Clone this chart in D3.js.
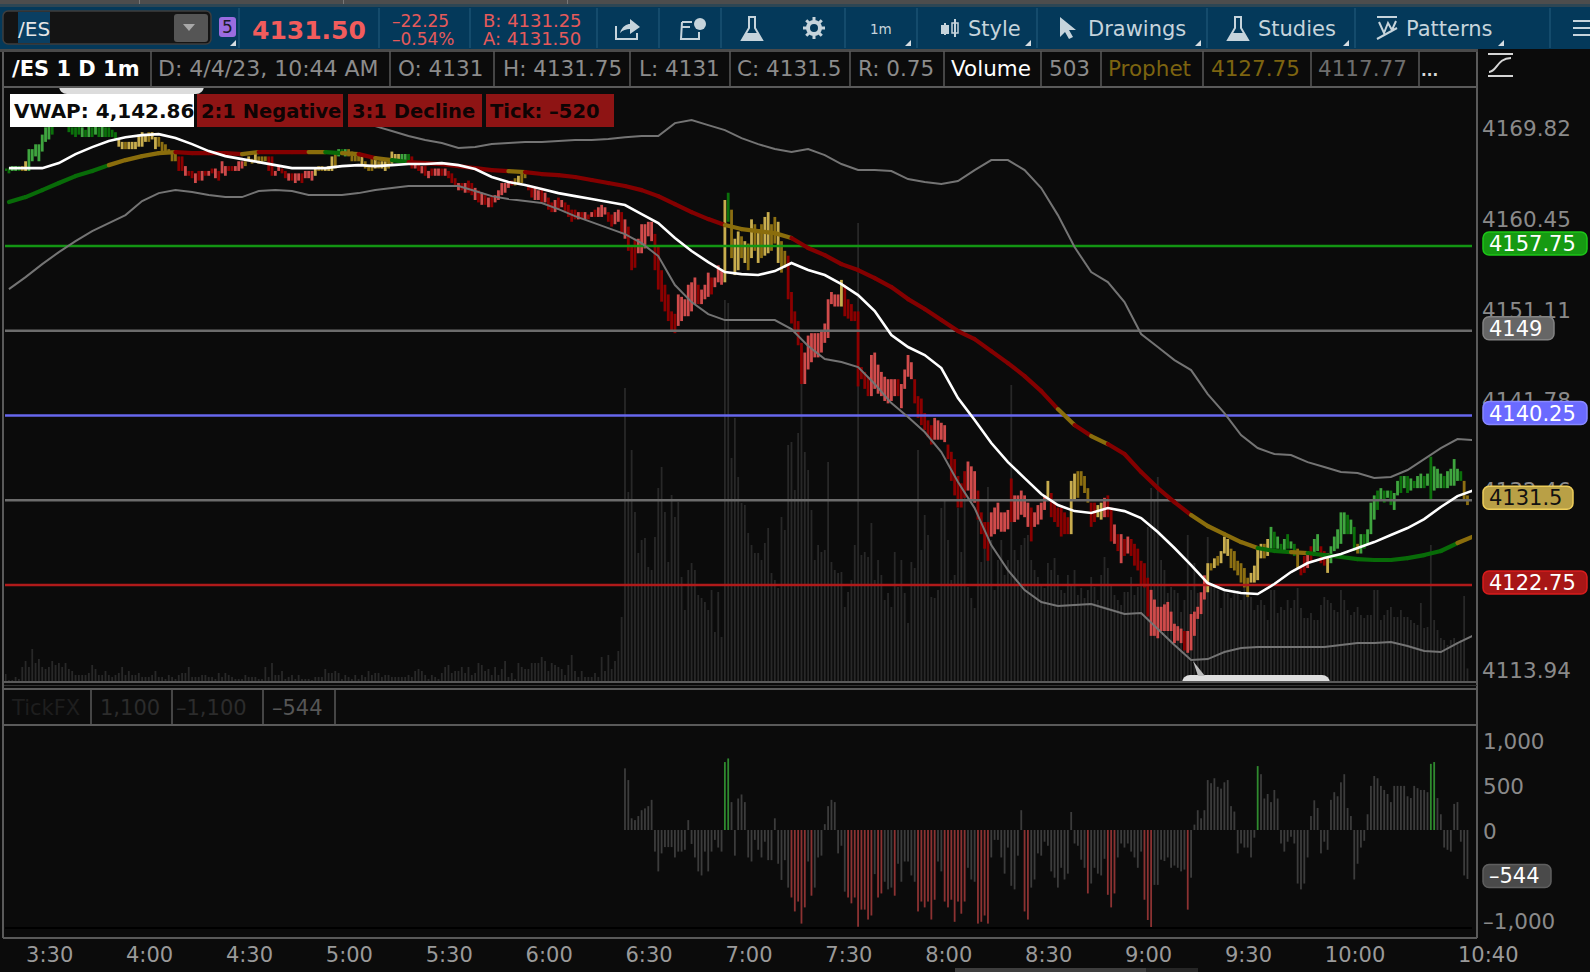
<!DOCTYPE html>
<html>
<head>
<meta charset="utf-8">
<script src="https://cdnjs.cloudflare.com/ajax/libs/d3/7.8.5/d3.min.js"></script>
<style>
html,body {margin:0;padding:0;background:#0b0b0b;overflow:hidden;}
text {font-family:'DejaVu Sans',sans-serif;}
.axis path,.axis line {display:none;}
</style>
</head>
<body>
<script>
//Time of the first bar, minutes after midnight (3:24)
var firstMinute = 204;

var candleHigh = [
4165.75,4165.75,4166,4166,4166,4166,4166.5,4167.75,4167.75,4168.25,
4168.25,4169.25,4170,4170.25,4170.75,4171.75,4171.75,4172.25,4172.25,4170.75,
4170,4170,4170.25,4170,4169.75,4170.25,4170,4170.25,4170,4170.25,
4170,4170,4169.75,4169.5,4168.75,4168.5,4168.5,4168.5,4168.5,4168.5,
4169.25,4169.5,4169.25,4169.5,4169.5,4169,4169,4168.5,4168.25,4167.75,
4167.5,4167.25,4167,4167,4166,4165.5,4165.5,4165.25,4165.5,4165.5,
4165.5,4165.5,4165.75,4165.75,4165.5,4166.5,4166,4166,4166,4166,
4166.5,4166.5,4166.5,4167,4166.75,4167.25,4167,4167,4167,4167,
4167,4165.5,4166,4165.75,4165.5,4165.25,4165.25,4165.25,4165.25,4165.25,
4165.5,4165.5,4165.5,4165.75,4166,4166,4165.75,4166,4167,4167.25,
4167.75,4167.75,4167.75,4167.75,4167.5,4167.25,4167.25,4167,4166.5,4166,
4167,4167,4166.5,4166.5,4166.5,4166.5,4167.5,4167.25,4167.25,4167.25,
4167.25,4167.25,4167,4166.5,4166.5,4166,4166,4165.5,4165.75,4165.75,
4165.75,4165.75,4165.75,4165.5,4165.25,4164.75,4164.25,4164.25,4164.25,4164.5,
4164.25,4163.75,4163.5,4163.25,4163,4162.75,4163,4163,4163.5,4164.25,
4164.25,4164.25,4164.5,4164.75,4165,4165.5,4165.25,4164,4163.75,4163.75,
4163.5,4163.75,4163.25,4162.75,4162.25,4162.5,4162.75,4162.5,4162.25,4162,
4161.5,4161.5,4161.25,4161.25,4161.25,4161,4161.25,4161.5,4161.75,4162,
4161.75,4161.25,4161,4161.25,4161.5,4161.25,4160.5,4159.75,4157.75,4158.5,
4158.5,4160,4160,4160.25,4160.25,4159,4157.75,4155.25,4153.75,4152.75,
4151,4150.75,4152.75,4152.5,4152.25,4153.75,4154,4154.5,4153.75,4153.25,
4153.75,4155,4154.5,4154.5,4155.75,4155.25,4162.5,4163.25,4161.5,4158.5,
4159.25,4158.75,4158.25,4158,4160.5,4160,4159.5,4160,4160.75,4161.25,
4160,4160.75,4160.25,4158.25,4157.25,4156.75,4153,4151,4150,4147.75,
4146.75,4148.5,4148.75,4148.75,4148.75,4149,4149.75,4152.25,4153,4152.75,
4152.75,4154.25,4153.75,4152.25,4151.75,4151,4151,4145.25,4144.75,4144.25,
4146.5,4146.75,4145.5,4144.75,4144.25,4144,4144,4144,4144,4143.5,
4145,4146.5,4145.75,4144,4142.25,4142,4140.5,4139.75,4139.25,4140,
4139.75,4139.5,4139.25,4137.25,4136.5,4135.75,4134,4133.25,4134.5,4135.5,
4135,4134.5,4132.5,4130.25,4129.25,4129.25,4130.25,4130.75,4131.25,4130.25,
4130.25,4130.5,4133.75,4132,4132,4132.5,4132,4131.25,4130.75,4130.25,
4131,4131.25,4132,4133.5,4132.25,4131.25,4130.75,4130.75,4130.25,4129.75,
4133.5,4134.25,4134.5,4134.5,4134,4132.75,4131.25,4131.25,4131,4131.25,
4131.75,4132,4130.75,4129,4128,4128,4127.5,4127.75,4127.5,4127,
4126.5,4125.25,4125,4123.5,4122.25,4121.25,4120.5,4120.5,4120.75,4121,
4120,4118.75,4118.5,4118.25,4118,4118,4119.75,4120,4120.5,4122,
4123.75,4125,4125,4125.5,4125.75,4126.25,4127.75,4127.5,4126.5,4126.25,
4125.25,4125,4124.5,4123.5,4124,4124.75,4126.5,4127,4127,4127.5,
4128.75,4128.25,4127.75,4127,4127.5,4128,4127.25,4127,4126.5,4124.5,
4125.75,4126.25,4126.75,4127.5,4128,4126.75,4126.25,4126,4126.75,4127.75,
4128.5,4130.25,4130.25,4130,4129.5,4128.75,4127,4128,4128,4128.5,
4131.25,4132,4132.5,4132.75,4132.5,4132.5,4132.5,4132.25,4133.5,4134,
4134,4134,4133.75,4133.5,4134,4134.25,4134,4134.25,4136,4135,
4134.75,4134.25,4134,4134.5,4134.75,4135.75,4134.75,4134.5,4133.5,4132
];

var candleLow = [
4165.5,4165.25,4165.5,4165.5,4165.5,4165.5,4165.5,4165.5,4166.5,4167,
4166.5,4167.5,4168.5,4168.75,4169.25,4170.25,4170.25,4170.75,4170.5,4169.5,
4169.25,4169,4169.25,4169,4169,4169,4169,4169.25,4169,4169,
4169,4169,4169,4168.75,4168,4167.75,4167.75,4167.75,4167.75,4167.75,
4168,4168,4168.5,4168.5,4168.75,4167.75,4168,4167.5,4167.25,4167.25,
4166.5,4166.5,4165.5,4165.5,4165,4165,4164.75,4164.25,4164.5,4164.5,
4165,4165,4165.25,4164.75,4164.5,4165.25,4165,4165.5,4165.5,4165.5,
4165.5,4165.75,4166,4166.5,4166.25,4166.5,4166.25,4166.25,4166.5,4165.5,
4165,4165,4165.5,4165.25,4164.75,4164.5,4164.5,4164.25,4164.5,4164.25,
4164.75,4164.75,4164.5,4165,4165.5,4165.5,4165.5,4165.5,4165.5,4165.75,
4167,4167.25,4167,4167,4166.5,4166.5,4166.5,4166,4165.75,4165.5,
4165.5,4165.75,4165.75,4165.75,4165.5,4165.75,4166.25,4166.5,4166.5,4166.5,
4166.5,4166.25,4165.75,4165.75,4165.5,4165.25,4165,4164.75,4165,4165,
4165,4165,4165,4164.75,4164.25,4164,4163.5,4163.5,4163.25,4163.25,
4163,4162.5,4162.25,4162,4162,4161.75,4161.75,4162.25,4162.5,4163,
4163.25,4163.75,4164,4164,4164.25,4164.25,4164.75,4163.5,4162.75,4162.5,
4162.5,4162.25,4162.25,4161.5,4161.25,4161.25,4161.5,4161.75,4161.25,4160.75,
4160.25,4160.5,4160.5,4160.5,4160.5,4160.5,4160.75,4160.75,4160.75,4160.75,
4161,4160.25,4159.75,4160,4160.25,4159,4158.5,4157.25,4155.25,4155.5,
4157,4157,4157.5,4158.75,4158.25,4155.25,4153.25,4152,4151,4150,
4149,4148.75,4149.5,4150,4150.5,4150.5,4151,4151.75,4151.75,4151.75,
4152.25,4152.5,4152.75,4153.5,4154,4153.75,4154,4160.25,4156.5,4154.75,
4155.25,4156.5,4156,4155.25,4156.5,4157.25,4156,4156.5,4156.75,4157,
4157.25,4158,4156,4155,4155.5,4152.25,4149.75,4148.75,4147.5,4143.5,
4143.5,4145,4145.75,4146.25,4146.25,4146.75,4147.75,4148.25,4151.75,4151.5,
4151.5,4151.5,4150.5,4150.25,4150,4150,4143.25,4144,4143,4142.25,
4142.25,4143,4142.5,4142.25,4141.75,4141.5,4141.75,4142.25,4142.25,4141,
4143,4144.25,4144,4141.5,4140,4139.25,4138.75,4138,4137.25,4137.75,
4137.75,4137.75,4137.5,4135.75,4133.5,4132,4130.75,4130.75,4131.75,4132.5,
4131.5,4131.25,4129.5,4128,4126.5,4125.25,4127.75,4128,4128.5,4128.25,
4128.25,4128.5,4129.25,4129.25,4129.5,4130,4129.75,4128.75,4127.25,4128.75,
4129,4129.5,4130.5,4131.75,4129.75,4129.25,4128.75,4127.75,4128,4128,
4128,4131.5,4131.75,4133,4132.25,4131.25,4128.75,4129.25,4129.75,4129.5,
4129.75,4129.75,4127.25,4127,4126.25,4125,4125.75,4126,4125.75,4124.75,
4124.25,4122.75,4122.5,4119.5,4117.5,4117.5,4117.25,4118,4118,4118,
4118,4116.75,4117,4116.75,4116,4115.75,4116,4117.5,4119.25,4119.75,
4121.25,4122,4124.25,4124.5,4124.75,4125,4126,4125.75,4124.5,4124.25,
4123.75,4123,4122.5,4121.5,4123,4123,4123.25,4125.5,4125.5,4125.75,
4126.5,4126.5,4126.5,4126.25,4126.25,4126.5,4126.5,4125.75,4124.5,4123.75,
4124,4124.5,4125.25,4125.75,4126.25,4125,4124.75,4124,4125,4126.25,
4126.5,4127,4128,4128,4128,4126.25,4126,4126,4126.5,4127,
4128,4129.5,4130.5,4131.5,4131.25,4131.75,4131,4130.5,4132,4132.25,
4132.75,4132.25,4132.5,4132.75,4132.75,4132.75,4132.75,4133,4131.5,4132.5,
4132.75,4132.75,4132.75,4132.75,4133,4133,4133.5,4133.5,4131.5,4131
];

//One letter a bar: G green, Y neutral, R red. Upper case up bar, lower case down bar
var candleState =
	'ggGGgyYGGG'+'GGGGgGGGGg'+'gggGgGgGgG'+'ggggYYyYYY'+'YYYyYYyyyy'+'yyrrRrrRrR'+
	'rRrRrRRrrR'+'RRyYyYyyyr'+'rRRrrRrRRr'+'RRRYyyYYYy'+'GgGyyyyYyy'+'yYyYYyYYYG'+
	'GgrRrRrRrR'+'RrRrrrRrRr'+'rRrRrRrRRR'+'RRryYyyrrR'+'RrRrrRrRrr'+'rrRrRrRrRR'+
	'RrrRRrRrrr'+'RRRRRrrrrr'+'rrRRRRRRrR'+'RRrRRRYgyY'+'YyYyYyYyYY'+'yyYyyrrrrr'+
	'RRRRRRRRRR'+'RYrrrrrrrr'+'RRRRRRRRrR'+'RRRrrrrrrR'+'RRRrrrrrrR'+'RRrrrrRRRR'+
	'RRrRRRRRrR'+'RRRYrrrrrr'+'YYyyyyrrYY'+'RrrRrRrRrr'+'rrrrRRRRRR'+'RRRRrRRRRR'+
	'RYyYyYYYyy'+'yyyyYYYYyY'+'GgGgGgGgyr'+'rRrGGrrYGG'+'GGGgGgyGgG'+'GGgGgGgGGg'+
	'GgGgGGgGgG'+'GGgGGGGgyy';

var volumeValues = [
280,40,40,160,80,560,800,560,1280,720,
880,560,480,560,800,640,720,560,720,480,
400,240,240,240,240,320,640,480,240,240,
400,240,160,240,320,560,240,400,240,240,
320,160,160,160,240,400,160,160,80,240,
160,80,240,320,320,560,160,160,160,240,
240,160,160,80,320,160,320,240,160,80,
80,80,240,160,160,160,80,80,560,160,
720,240,240,400,80,160,240,80,240,80,
80,80,40,160,160,160,480,320,320,400,
320,80,240,160,80,240,80,240,160,400,
240,320,320,160,240,240,160,160,160,160,
160,240,160,400,480,400,240,80,240,160,
80,320,560,640,320,400,400,560,320,560,
240,320,720,640,400,480,240,560,240,480,
800,160,320,80,720,560,480,480,720,720,
720,960,800,400,720,640,560,480,240,640,
1040,400,160,400,160,160,160,320,160,960,
400,1040,480,800,1200,2560,
11720,7560,9240,6760,5120,5640,5720,4560,4440,5760,
7720,8560,6760,4760,7440,6560,7160,4160,2840,4440,
4720,4440,3440,3320,3160,2840,3640,1960,3560,1760,
15240,15120,8920,10520,8160,7120,7040,5920,5440,5120,
5120,4840,5520,6120,4320,4040,3720,6560,6040,9440,
9560,7640,9920,12040,9160,8440,6840,4840,5440,5160,
5240,8760,4760,4440,4320,4360,2960,3560,4040,5440,
18320,5040,5160,4960,6320,4040,4840,4240,3240,3520,
2960,5160,3760,4840,3520,2320,4760,4520,9240,5240,
6640,5840,3360,3320,3640,6920,7240,5640,4040,4240,
6920,5160,7760,3760,3320,2920,6440,4760,5360,7760,
5640,3640,4840,5640,4240,4840,11840,5240,4840,5440,
5720,5840,4840,4440,4160,3840,3720,4720,4440,4920,
4240,3640,3520,4240,3840,4440,3440,3720,3320,3640,
4160,3760,3240,4240,4960,4520,3840,3440,3240,3040,
3560,3560,4160,3440,3760,4040,4440,6160,7720,7240,
8160,4840,4440,3520,3760,3640,3520,2760,3240,5840,
3640,4720,3520,3240,3640,5760,3920,3760,3640,2920,
3720,3520,3320,3640,3640,3240,3760,3720,3360,2840,
3040,3240,3040,2440,3640,3640,2720,2960,2840,3240,
2920,3240,3720,2920,2520,2520,2720,2440,2440,3040,
3360,3240,3120,2840,2760,3640,3240,2840,2640,2760,
2960,2640,2520,2640,2640,3640,3640,2440,2640,2840,
2960,2560,2560,2840,2560,2560,2440,2320,2240,3120,
2120,2160,5440,2440,2040,1720,1640,1440,1640,1720,
1560,1640,3400,503
];

//TickFX starts with the session, 6:30
var tickStartMinute = 390;
var tickValues = [
685,555,130,110,155,220,240,265,335,-240,
-460,-260,-190,-190,-190,-305,-240,-240,-220,110,
-155,-305,-460,-505,-240,-460,-240,-110,-195,-240,
755,795,310,-285,350,395,310,-305,-350,-110,
-220,-305,-130,-335,-335,130,-375,-555,-335,-640,
-750,-905,-795,-1040,-860,-350,-730,-640,-305,-285,
65,265,335,310,-260,-175,-685,-750,-815,-750,
-1075,-885,-885,-995,-950,-490,-750,-705,-575,-660,
-640,-730,-375,-575,-350,-350,-505,-575,-905,-795,
-860,-795,-995,-775,-350,-460,-795,-860,-775,-1020,
-795,-930,-795,-420,-550,-575,-1040,-1020,-950,-1040,
-305,-110,-110,-305,-485,-195,-620,-660,-285,220,
-905,-995,-640,-550,-260,-285,-130,-175,-460,-530,
-640,-420,-550,-485,200,-150,-175,-330,-420,-705,
-595,-420,-485,-505,-320,-720,-860,-705,-305,-150,
-195,-150,-240,-305,-420,-240,-775,-1000,-1100,-610,
-610,-330,-345,-305,-420,-395,-420,-460,-440,-885,
-530,60,220,130,220,555,520,575,480,460,
530,555,265,205,-260,-150,-195,-195,-305,-85,
710,620,350,400,310,445,350,-150,-240,-130,
-75,-150,-595,-660,-595,-305,155,330,245,-260,
-130,-220,335,420,375,530,620,245,155,-550,
-375,-195,-120,175,490,600,575,490,445,400,
310,490,490,490,490,375,355,490,465,445,
445,420,735,755,355,175,-195,-220,-240,290,
310,-130,-505,-544
];

//Studies, one reading every 5 minutes from 3:25
var studyStep = 5;
var studyStart = 205;
var vwapValues = [
4165.79,4165.79,4165.79,4166.31,4167.24,4167.96,4168.58,4168.98,4169.2,4169.3,
4168.89,4168.27,4167.55,4167.03,4166.72,4166.41,4166.1,4165.79,4165.79,4165.79,
4166,4166.1,4166,4166.1,4166.21,4166.21,4166.31,4166.1,4165.69,4164.87,
4164.35,4164.04,4163.63,4163.21,4162.9,4162.6,4162.29,4161.98,4161.05,4160.12,
4158.57,4157.23,4156.09,4155.06,4154.85,4154.75,4155.16,4155.99,4155.27,4154.75,
4153.82,4152.68,4151.03,4148.56,4147.32,4146.49,4145.15,4142.05,4139.78,4137.41,
4135.44,4133.79,4132.14,4131,4130.38,4130.18,4130.69,4130.38,4129.66,4128.22,
4126.57,4124.81,4122.95,4122.23,4121.92,4121.82,4122.85,4124.09,4125.02,4125.53,
4125.95,4126.57,4127.18,4127.91,4128.63,4129.56,4130.8,4131.93,4132.55
];
//The first readings of the upper band are out of the panel
var upperBandValues = [
null,null,null,null,null,null,null,null,null,null,
null,null,null,null,null,null,null,null,null,null,
null,null,4170.13,4169.62,4169.1,4168.69,4168.38,4167.86,4167.96,4168.27,
4168.38,4168.48,4168.48,4168.58,4168.69,4168.69,4168.79,4168.98,4169.1,4169.1,
4170.44,4170.75,4170.23,4169.72,4168.89,4168.27,4167.76,4167.45,4167.76,4167.14,
4166.21,4165.59,4165.59,4165.49,4164.66,4164.35,4164.14,4164.45,4165.59,4166.62,
4166.62,4165.59,4163.73,4160.94,4157.64,4155.06,4154.03,4151.96,4148.66,4147.32,
4145.97,4144.94,4142.46,4140.5,4138.23,4136.89,4136.27,4136.17,4135.44,4134.93,
4134.41,4134.31,4133.79,4133.9,4134.62,4135.75,4136.89,4137.82,4137.72
];
var lowerBandValues = [
4153.3,4154.54,4155.88,4157.12,4158.26,4159.29,4160.12,4160.94,4162.39,4163.21,
4163.52,4163.32,4163.01,4162.8,4162.8,4163.42,4163.52,4163.42,4163.01,4163.01,
4163.01,4163.21,4163.52,4163.73,4163.94,4163.94,4163.94,4163.94,4163.42,4162.9,
4162.6,4162.39,4162.18,4161.56,4160.84,4160.22,4159.6,4158.98,4158.05,4156.71,
4153.72,4151.96,4150.72,4150.1,4150.1,4150.1,4150.1,4149.17,4147.42,4146.08,
4145.77,4145.25,4143.5,4141.53,4140.09,4138.54,4136.48,4133.38,4130.69,4126.87,
4124.29,4122.23,4120.99,4120.58,4120.68,4120.78,4120.27,4119.75,4119.85,4118.2,
4116.55,4115,4115.1,4115.83,4116.24,4116.34,4116.34,4116.34,4116.34,4116.34,
4116.55,4116.76,4116.76,4116.86,4116.45,4115.93,4115.83,4116.76,4117.58
];
var prophetValues = [
4162.29,4162.8,4163.52,4164.25,4164.97,4165.49,4166.1,4166.62,4167.03,4167.34,
4167.45,4167.34,4167.34,4167.34,4167.24,4167.45,4167.45,4167.45,4167.45,4167.45,
4167.34,4167.24,4166.83,4166.62,4166.41,4166.31,4166.21,4166,4165.79,4165.59,
4165.49,4165.38,4165.18,4165.07,4164.87,4164.56,4164.25,4163.94,4163.52,4162.9,
4162.08,4161.25,4160.53,4159.91,4159.5,4159.29,4159.08,4158.57,4157.54,4156.81,
4155.88,4155.27,4154.44,4153.51,4152.27,4151.24,4150.1,4148.97,4148.14,4146.9,
4145.66,4144.32,4142.77,4140.91,4139.26,4138.13,4137.3,4136.27,4134.41,4132.76,
4131.31,4129.97,4128.84,4128.01,4127.18,4126.57,4126.26,4126.15,4126.05,4125.84,
4125.64,4125.43,4125.33,4125.33,4125.53,4125.84,4126.26,4127.08,4127.8
];
//Colour of each stretch between two prophet readings
var prophetState =
	'GGGGGGYYYYRRRRYRRRYGYRYG'+'RRRRRRYRRRRRRRRRRRRYYYY'+'RRRRRRRRRRRRRRRRYRYRRRRR'+
	'YYYYGGYGGGGGGGGGY';

var priceLevels = [
	{price:4157.75,color:'#139513',tag:'#169a12',text:'#fff',label:'4157.75'},
	{price:4149,color:'#6c6c6c',tag:'#666666',text:'#fff',label:'4149'},
	{price:4140.25,color:'#6767ee',tag:'#6a6aff',text:'#fff',label:'4140.25'},
	{price:4131.5,color:'#6c6c6c',tag:'#b9a046',text:'#111',label:'4131.5'},
	{price:4122.75,color:'#b01a1a',tag:'#a81616',text:'#fff',label:'4122.75'}
];
var priceTicks = [4169.82,4160.45,4151.11,4141.78,4132.46,4113.94];
var tickFxTicks = [1000,500,0,-1000];
var timeTicks = [210,240,270,300,330,360,390,420,450,480,510,540,570,600,640];

var stateColors = {G:'#3fa53f',g:'#0b700b',Y:'#c8ad4e',y:'#8c6f12',R:'#d04b4b',r:'#8b0000'};
var prophetColors = {G:'#086b08',Y:'#8a6d0c',R:'#840000'};

var width = 1590, height = 972;
var chartLeft = 5, chartRight = 1477, chartTop = 88, chartBottom = 681;

var svg = d3.select('body').append('svg').attr('width',width).attr('height',height)
	.style('display','block').style('background','#0b0b0b');

var xScale = d3.scaleLinear().domain([firstMinute,firstMinute+440]).range([5.6,1470.8]);
var yScale = d3.scaleLinear().domain([4157.75,4122.75]).range([246,585]);
var volumeScale = d3.scaleLinear().domain([0,18320]).range([681,223]);
var tickScale = d3.scaleLinear().domain([0,1000]).range([830,740]);

svg.append('clipPath').attr('id','chartClip').append('rect')
	.attr('x',chartLeft).attr('y',chartTop).attr('width',chartRight-chartLeft-5).attr('height',chartBottom-chartTop);

var chartG = svg.append('g').attr('clip-path','url(#chartClip)');

//Volume
chartG.append('g').selectAll('rect').data(volumeValues).enter().append('rect')
	.attr('x',function(d,i){return xScale(firstMinute+i)-0.9;})
	.attr('y',function(d){return volumeScale(d);})
	.attr('width',1.8)
	.attr('height',function(d){return volumeScale(0)-volumeScale(d);})
	.attr('fill','#282828');

//Candles
chartG.append('g').selectAll('rect').data(candleHigh).enter().append('rect')
	.attr('x',function(d,i){return xScale(firstMinute+i)-1.4;})
	.attr('y',function(d){return yScale(d);})
	.attr('width',2.8)
	.attr('height',function(d,i){return yScale(candleLow[i])-yScale(d);})
	.attr('fill',function(d,i){return stateColors[candleState.charAt(i)];});

//Price levels
chartG.append('g').selectAll('line').data(priceLevels).enter().append('line')
	.attr('x1',chartLeft).attr('x2',1472)
	.attr('y1',function(d){return yScale(d.price);})
	.attr('y2',function(d){return yScale(d.price);})
	.attr('stroke',function(d){return d.color;})
	.attr('stroke-width',2.4);

//Studies
function studyLine(values,color,strokeWidth) {
	var line = d3.line()
		.defined(function(d){return d !== null;})
		.x(function(d,i){return xScale(studyStart+i*studyStep);})
		.y(function(d){return yScale(d);});
	chartG.append('path').attr('d',line(values)).attr('fill','none')
		.attr('stroke',color).attr('stroke-width',strokeWidth);
}

//Prophet changes colour along the way, so one piece per stretch
var prophetPieces = d3.range(prophetValues.length-1);
chartG.append('g').selectAll('line').data(prophetPieces).enter().append('line')
	.attr('x1',function(d){return xScale(studyStart+d*studyStep);})
	.attr('x2',function(d){return xScale(studyStart+(d+1)*studyStep);})
	.attr('y1',function(d){return yScale(prophetValues[d]);})
	.attr('y2',function(d){return yScale(prophetValues[d+1]);})
	.attr('stroke',function(d){return prophetColors[prophetState.charAt(d)];})
	.attr('stroke-width',4.2)
	.attr('stroke-linecap','round');

studyLine(upperBandValues,'#747474',2);
studyLine(lowerBandValues,'#747474',2);
studyLine(vwapValues,'#ffffff',2.6);

//Bubbles cut by the panel edge
chartG.append('rect').attr('x',59).attr('y',70).attr('width',145).attr('height',24).attr('rx',8).attr('fill','#dcdcdc');
chartG.append('rect').attr('x',1182).attr('y',675).attr('width',148).attr('height',30).attr('rx',8).attr('fill','#dedede');
chartG.append('path').attr('d','M1193,661L1205,676L1198,676Z').attr('fill','#bdbdbd');

//TickFX
svg.append('g').selectAll('rect').data(tickValues).enter().append('rect')
	.attr('x',function(d,i){return xScale(tickStartMinute+i)-0.9;})
	.attr('y',function(d){return tickScale(Math.max(d,0));})
	.attr('width',1.8)
	.attr('height',function(d){return Math.abs(tickScale(d)-tickScale(0));})
	.attr('fill',function(d){
		if (d >= 700) return '#2f8a2f';
		if (d <= -700) return '#8c3232';
		return '#3c3c3c';
	});
svg.append('rect').attr('x',chartLeft).attr('y',927).attr('width',1467).attr('height',2).attr('fill','#000');

//Panel frames
var frameColor = '#5a5a5a';
function frameLine(x1,y1,x2,y2) {
	svg.append('line').attr('x1',x1).attr('y1',y1).attr('x2',x2).attr('y2',y2)
		.attr('stroke',frameColor).attr('stroke-width',2);
}
frameLine(3,50,3,938);
frameLine(1477,50,1477,938);
frameLine(3,87,1477,87);
frameLine(3,682,1477,682);
svg.append('line').attr('x1',4).attr('x2',1477).attr('y1',685.5).attr('y2',685.5).attr('stroke','#333').attr('stroke-width',1);
frameLine(3,689,1477,689);
frameLine(3,725,1477,725);
frameLine(3,938,1477,938);

//Badges in the price panel
var badges = [
	{label:'VWAP: 4,142.86',x:10,w:184,fill:'#ffffff',text:'#0b0b0b',size:20},
	{label:'2:1 Negative',x:197,w:146,fill:'#8e1414',text:'#0f0404',size:19.5},
	{label:'3:1 Decline',x:348,w:134,fill:'#8e1414',text:'#0f0404',size:19.5},
	{label:'Tick: \u2013520',x:486,w:128,fill:'#8e1414',text:'#0f0404',size:19.5}
];
svg.append('g').selectAll('rect').data(badges).enter().append('rect')
	.attr('x',function(d){return d.x;}).attr('y',94).attr('width',function(d){return d.w;}).attr('height',33)
	.attr('fill',function(d){return d.fill;});
svg.append('g').selectAll('text').data(badges).enter().append('text')
	.attr('x',function(d){return d.x+4;}).attr('y',118)
	.attr('font-size',function(d){return d.size;}).attr('font-weight','bold').attr('fill',function(d){return d.text;})
	.text(function(d){return d.label;});

//Axes
var priceAxis = d3.axisRight(yScale).tickValues(priceTicks).tickSize(0).tickPadding(0).tickFormat(d3.format('.2f'));
svg.append('g').attr('class','axis').attr('transform','translate(1482,0)').call(priceAxis)
	.selectAll('text').attr('font-size',21.5).attr('fill','#8a8a8a').style('font-family',"'DejaVu Sans'");

var tickAxis = d3.axisRight(tickScale).tickValues(tickFxTicks).tickSize(0).tickPadding(0)
	.tickFormat(function(d){return d3.format(',')(d).replace('\u2212','\u2013');});
svg.append('g').attr('class','axis').attr('transform','translate(1483,1.5)').call(tickAxis)
	.selectAll('text').attr('font-size',21.5).attr('fill','#8a8a8a').style('font-family',"'DejaVu Sans'");

var timeAxis = d3.axisBottom(xScale).tickValues(timeTicks).tickSize(0).tickPadding(0)
	.tickFormat(function(d){return Math.floor(d/60)+':'+d3.format('02')(d%60);});
svg.append('g').attr('class','axis').attr('transform','translate(0,947)').call(timeAxis)
	.selectAll('text').attr('font-size',21).attr('fill','#9a9a9a').attr('text-anchor','start').style('font-family',"'DejaVu Sans'");

//Price tags
function tag(label,y,x,w,fill,textColor) {
	svg.append('rect').attr('x',x).attr('y',y-11.5).attr('width',w).attr('height',23).attr('rx',6)
		.attr('fill',fill).attr('stroke',d3.color(fill).brighter(0.7)).attr('stroke-width',1.5);
	svg.append('text').attr('x',x+6).attr('y',y+7.5).attr('font-size',21).attr('fill',textColor).text(label);
}
var tagWidths = [104,71,104,90,104];
priceLevels.forEach(function(d,i){
	tag(d.label,yScale(d.price)-2.5,1483,tagWidths[i],d.tag,d.text);
});
tag('\u2013544',tickScale(-544)-3,1483,68,'#4a4a4a','#ffffff');

//Study header row of the price panel and of TickFX
var headerCells = [
	{label:'/ES 1 D 1m',x:12,end:151,color:'#ffffff',bold:true},
	{label:'D: 4/4/23, 10:44 AM',x:158,end:390,color:'#8c8c8c',size:22},
	{label:'O: 4131',x:398,end:494,color:'#8c8c8c'},
	{label:'H: 4131.75',x:503,end:630,color:'#8c8c8c'},
	{label:'L: 4131',x:639,end:730,color:'#8c8c8c'},
	{label:'C: 4131.5',x:737,end:850,color:'#8c8c8c'},
	{label:'R: 0.75',x:858,end:944,color:'#8c8c8c'},
	{label:'Volume',x:951,end:1041,color:'#ffffff'},
	{label:'503',x:1049,end:1101,color:'#8c8c8c'},
	{label:'Prophet',x:1108,end:1203,color:'#7d6410'},
	{label:'4127.75',x:1211,end:1311,color:'#7d6410'},
	{label:'4117.77',x:1318,end:1419,color:'#6e6e6e'},
	{label:'...',x:1421,end:null,color:'#d8d8d8',bold:true,size:15}
];
svg.append('rect').attr('x',0).attr('y',49).attr('width',1478).attr('height',3).attr('fill','#4a4a4a');
headerCells.forEach(function(d){
	svg.append('text').attr('x',d.x).attr('y',76).attr('font-size',d.size||(d.bold?21:21.5)).attr('fill',d.color)
		.attr('font-weight',d.bold?'bold':'normal').text(d.label);
	if (d.end) svg.append('line').attr('x1',d.end).attr('x2',d.end).attr('y1',51).attr('y2',87)
		.attr('stroke',frameColor).attr('stroke-width',1.5);
});

var tickCells = [
	{label:'TickFX',x:12,end:91,color:'#1e1e1e'},
	{label:'1,100',x:100,end:172,color:'#2c2c2c'},
	{label:'\u20131,100',x:176,end:263,color:'#2c2c2c'},
	{label:'\u2013544',x:272,end:335,color:'#565656'}
];
tickCells.forEach(function(d){
	svg.append('text').attr('x',d.x).attr('y',715).attr('font-size',21).attr('fill',d.color).text(d.label);
	svg.append('line').attr('x1',d.end).attr('x2',d.end).attr('y1',689).attr('y2',725)
		.attr('stroke',frameColor).attr('stroke-width',1.5);
});

//Scroll bar at the foot of the window
svg.append('rect').attr('x',955).attr('y',968).attr('width',191).attr('height',4).attr('fill','#3e3e3e');
svg.append('rect').attr('x',1146).attr('y',968).attr('width',52).attr('height',4).attr('fill','#262626');

//Toolbar
var barColor = '#04395a', barText = '#c6d4dc', barLine = '#1a5273';
svg.append('rect').attr('width',width).attr('height',49).attr('fill',barColor);
svg.append('rect').attr('width',width).attr('height',4).attr('fill','#4d4d4d');
svg.append('rect').attr('y',4).attr('width',width).attr('height',3).attr('fill','#2d4654');
[139,343,567].forEach(function(x){
	svg.append('rect').attr('x',x).attr('width',1).attr('height',4).attr('fill','#777');
});
[239,379,470,597,659,721,845,917,1037,1207,1355,1550].forEach(function(x){
	svg.append('line').attr('x1',x).attr('x2',x).attr('y1',8).attr('y2',48).attr('stroke',barLine).attr('stroke-width',1.5);
});
svg.append('rect').attr('x',3).attr('y',11).attr('width',208).attr('height',33).attr('rx',5)
	.attr('fill','#141414').attr('stroke','#3e3e3e').attr('stroke-width',1.5);
svg.append('rect').attr('x',18).attr('y',12).attr('width',32).attr('height',31).attr('fill','#0a3f62');
svg.append('text').attr('x',18).attr('y',36).attr('font-size',20).attr('fill','#e6e6e6').text('/ES');
svg.append('rect').attr('x',174).attr('y',14).attr('width',34).attr('height',28).attr('rx',3).attr('fill','#555');
svg.append('path').attr('d','M183,24L195,24L189,31Z').attr('fill','#a8a8a8');
svg.append('rect').attr('x',219).attr('y',17).attr('width',17).attr('height',20).attr('rx',3).attr('fill','#9a6ce0');
svg.append('text').attr('x',222).attr('y',33).attr('font-size',17).attr('fill','#1a1a2a').text('5');
svg.append('text').attr('x',252).attr('y',39).attr('font-size',25).attr('font-weight','bold').attr('fill','#f25c5c').text('4131.50');
svg.append('text').attr('x',392).attr('y',27).attr('font-size',17).attr('fill','#e65a5a').text('\u201322.25');
svg.append('text').attr('x',392).attr('y',45).attr('font-size',17).attr('fill','#e65a5a').text('\u20130.54%');
svg.append('text').attr('x',483).attr('y',27).attr('font-size',18).attr('fill','#e65a5a').text('B: 4131.25');
svg.append('text').attr('x',483).attr('y',45).attr('font-size',18).attr('fill','#e65a5a').text('A: 4131.50');
svg.append('text').attr('x',870).attr('y',34).attr('font-size',13.5).attr('fill',barText).text('1m');
[['Style',968],['Drawings',1088],['Studies',1258],['Patterns',1406]].forEach(function(d){
	svg.append('text').attr('x',d[1]).attr('y',36).attr('font-size',21).attr('fill',barText).text(d[0]);
});
//Corner marks of the menus
[236,911,1031,1201,1349,1504].forEach(function(x){
	svg.append('path').attr('d','M'+(x-6)+',46L'+x+',46L'+x+',40Z').attr('fill','#d5dde2');
});
//Icons
function icon(d,fill,stroke) {
	svg.append('path').attr('d',d).attr('fill',fill||'none').attr('stroke',stroke||'none').attr('stroke-width',2);
}
icon('M616,26L616,39L637,39L637,33','none',barText);
icon('M620,33C622,26 627,24 630,24L630,19L640,27L630,34L630,29C626,29 623,30 620,33Z',barText);
icon('M682,22L681,39L699,39L699,32','none',barText);
icon('M682,22L692,22M682,27L690,27','none',barText);
icon('M694,24a6,6 0 1,0 12,0a6,6 0 1,0 -12,0Z',barText);
function flask(x) {
	icon('M'+(x-4)+',17L'+(x+4)+',17M'+(x-3)+',17L'+(x-3)+',28L'+(x-10)+',40L'+(x+10)+',40L'+(x+3)+',28L'+(x+3)+',17','none',barText);
	icon('M'+(x-6)+',33L'+(x+6)+',33L'+(x+10)+',40L'+(x-10)+',40Z',barText);
}
flask(752);
flask(1238);
svg.append('circle').attr('cx',814).attr('cy',28).attr('r',6).attr('fill','none').attr('stroke',barText).attr('stroke-width',4);
d3.range(8).forEach(function(i){
	var a = i*Math.PI/4;
	svg.append('line').attr('x1',814+7*Math.cos(a)).attr('y1',28+7*Math.sin(a)).attr('x2',814+11*Math.cos(a)).attr('y2',28+11*Math.sin(a))
		.attr('stroke',barText).attr('stroke-width',3);
});
icon('M945,23L945,35M955,19L955,37','none',barText);
svg.append('rect').attr('x',941).attr('y',25).attr('width',8).attr('height',9).attr('fill',barText);
svg.append('rect').attr('x',952).attr('y',23).attr('width',6).attr('height',10).attr('fill','none').attr('stroke',barText).attr('stroke-width',1.5);
icon('M1060,17L1060,37L1065,32L1069,39L1073,37L1069,30L1076,30Z',barText);
icon('M1377,17L1397,17','none',barText);
icon('M1379,22L1384,33L1388,23L1392,30L1396,21M1377,39L1397,28','none',barText);
icon('M1573,21L1590,21M1573,28L1590,28M1573,35L1590,35','none',barText);
//Studies icon at the top of the price axis
icon('M1488,54L1513,54M1488,76L1513,76','none','#d5d5d5');
icon('M1489,72C1497,72 1497,58 1511,58','none','#d5d5d5');
</script>
</body>
</html>
